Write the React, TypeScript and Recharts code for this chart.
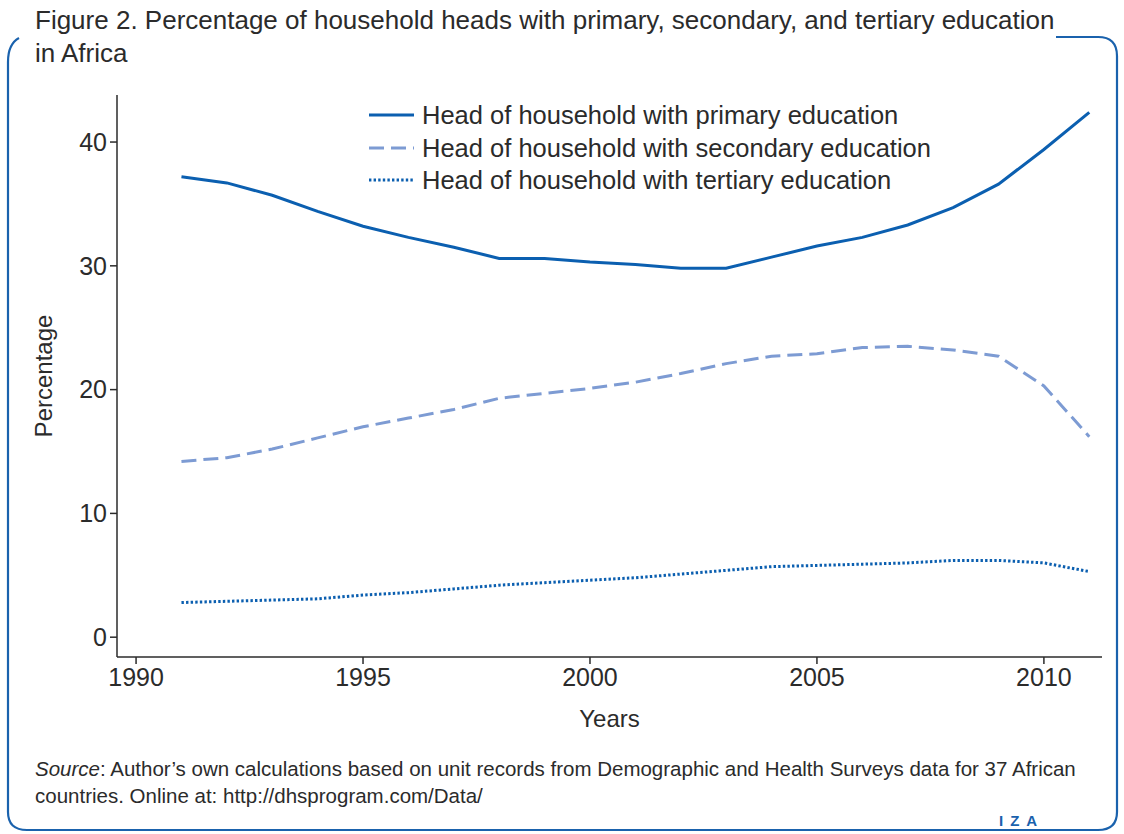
import React from 'react';
import { LineChart, Line, XAxis, YAxis, Legend } from 'recharts';

const years = [1991, 1992, 1993, 1994, 1995, 1996, 1997, 1998, 1999, 2000, 2001, 2002, 2003, 2004, 2005, 2006, 2007, 2008, 2009, 2010, 2011];
const primary = [37.2, 36.7, 35.7, 34.4, 33.2, 32.3, 31.5, 30.6, 30.6, 30.3, 30.1, 29.8, 29.8, 30.7, 31.6, 32.3, 33.3, 34.7, 36.6, 39.4, 42.4];
const secondary = [14.2, 14.5, 15.2, 16.1, 17.0, 17.7, 18.4, 19.3, 19.7, 20.1, 20.6, 21.3, 22.1, 22.7, 22.9, 23.4, 23.5, 23.2, 22.7, 20.3, 16.2];
const tertiary = [2.8, 2.9, 3.0, 3.1, 3.4, 3.6, 3.9, 4.2, 4.4, 4.6, 4.8, 5.1, 5.4, 5.7, 5.8, 5.9, 6.0, 6.2, 6.2, 6.0, 5.3];
const xTicks = [1990, 1995, 2000, 2005, 2010];
const yTicks = [0, 10, 20, 30, 40];

const data = years.map((year, i) => ({
  year,
  primary: primary[i],
  secondary: secondary[i],
  tertiary: tertiary[i],
}));

const BLUE = '#0b5fb0';
const LIGHT = '#7d9bd3';
const INK = '#2b2b2b';
const FONT = '"Liberation Sans", Arial, sans-serif';

const legendItems = [
  { label: 'Head of household with primary education', color: BLUE, dash: undefined },
  { label: 'Head of household with secondary education', color: LIGHT, dash: '15 7' },
  { label: 'Head of household with tertiary education', color: BLUE, dash: '2.4 2.2' },
];

function LegendBox() {
  return (
    <div style={{ fontFamily: FONT, fontSize: 25.5, color: INK, lineHeight: '32.5px' }}>
      {legendItems.map((it) => (
        <div key={it.label} style={{ display: 'flex', alignItems: 'center' }}>
          <svg width={52} height={10} style={{ marginRight: 2 }}>
            <line x1={1} y1={5} x2={46} y2={5} stroke={it.color} strokeWidth={3} strokeDasharray={it.dash} />
          </svg>
          <span>{it.label}</span>
        </div>
      ))}
    </div>
  );
}

export default function App() {
  return (
    <div style={{ position: 'absolute', left: 0, top: 0, width: 1124, height: 834, background: '#fff', overflow: 'hidden' }}>
      <svg width={1124} height={834} style={{ position: 'absolute', left: 0, top: 0 }}>
        <path
          d="M 1056 37 H 1098 Q 1117 37 1117 56 V 812 Q 1117 830 1098 830 H 27 Q 8 830 8 812 V 62 Q 8 44 19 38"
          fill="none"
          stroke="#1a62ad"
          strokeWidth={2.2}
        />
      </svg>
      <div style={{ position: 'absolute', left: 35, top: 4, fontFamily: FONT, fontSize: 26, color: INK, lineHeight: '33px' }}>
        Figure 2. Percentage of household heads with primary, secondary, and tertiary education
        <br />
        in Africa
      </div>
      <div style={{ position: 'absolute', left: 0, top: 0 }}>
        <LineChart width={1124} height={834} data={data} margin={{ top: 95, right: 22, left: 57, bottom: 107 }}>
          <XAxis
            dataKey="year"
            type="number"
            domain={[1989.58, 2011.28]}
            ticks={xTicks}
            allowDataOverflow
            height={70}
            stroke={INK}
            strokeWidth={1.5}
            tickSize={7}
            tickMargin={4}
            tick={{ fill: INK, fontSize: 25, fontFamily: FONT }}
            label={{ value: 'Years', position: 'insideBottom', offset: 0, fill: INK, fontSize: 24, fontFamily: FONT }}
          />
          <YAxis
            type="number"
            domain={[-1.6, 43.8]}
            ticks={yTicks}
            allowDataOverflow
            width={60}
            stroke={INK}
            strokeWidth={1.5}
            tickSize={7}
            tickMargin={3}
            tick={{ fill: INK, fontSize: 25, fontFamily: FONT }}
            label={{ value: 'Percentage', angle: -90, position: 'insideLeft', offset: -14, fill: INK, fontSize: 24, fontFamily: FONT, style: { textAnchor: 'middle' } }}
          />
          <Legend
            layout="vertical"
            verticalAlign="middle"
            align="center"
            wrapperStyle={{ top: 99, left: 368, width: 640 }}
            content={() => <LegendBox />}
          />
          <Line dataKey="primary" stroke={BLUE} strokeWidth={3} dot={false} isAnimationActive={false} />
          <Line dataKey="secondary" stroke={LIGHT} strokeWidth={3} strokeDasharray="15 7" dot={false} isAnimationActive={false} />
          <Line dataKey="tertiary" stroke={BLUE} strokeWidth={3} strokeDasharray="2.4 2.2" dot={false} isAnimationActive={false} />
        </LineChart>
      </div>
      <div style={{ position: 'absolute', left: 35, top: 755, fontFamily: FONT, fontSize: 20.5, color: INK, lineHeight: '27px', width: 1075 }}>
        <i>Source</i>: Author’s own calculations based on unit records from Demographic and Health Surveys data for 37 African
        <br />
        countries. Online at: http://dhsprogram.com/Data/
      </div>
      <div style={{ position: 'absolute', left: 999, top: 812, fontFamily: FONT, fontSize: 15, color: '#1a62ad', letterSpacing: 7, fontWeight: 'bold' }}>
        IZA
      </div>
    </div>
  );
}
